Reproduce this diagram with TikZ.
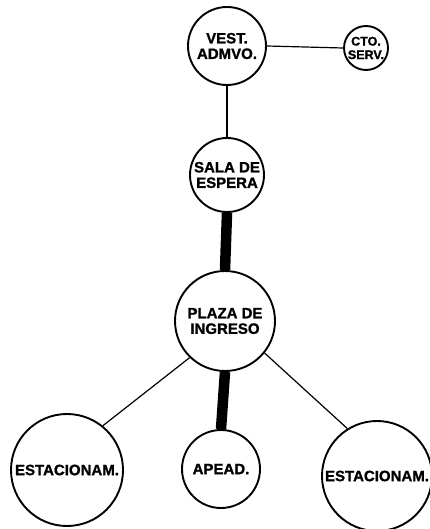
\documentclass[tikz,border=0pt]{standalone}
\usepackage{fontspec}
\setmainfont{Liberation Sans}
\newfontfamily\labelfont{Liberation Sans Bold}[FakeBold=1.2]
\usetikzlibrary{positioning, calc}

\begin{document}
\begin{tikzpicture}[
    x=1pt, y=-1pt,
    room/.style={circle, draw=black, line width=1.9pt, inner sep=0pt, align=center, font=\labelfont\fontsize{15}{15.5}\selectfont},
    small_room/.style={room, font=\labelfont\fontsize{12.5}{13.5}\selectfont},
    link/.style={line width=1.2pt},
    main_link/.style={line width=10.5pt}
]
    \useasboundingbox (0,0) rectangle (430,529);

    % ========== TOP: Administration ==========
    \node[room, minimum size=78pt] (vest) at (227,46) {VEST.\\ADMVO.};
    \node[small_room, minimum size=44pt] (cto) at (366,48) {CTO.\\SERV.};
    \node[room, minimum size=74pt] (sala) at (227,175) {SALA DE\\ESPERA};

    % ========== CENTRE: Entrance ==========
    \node[room, minimum size=100pt] (plaza) at (225,321) {PLAZA DE\\INGRESO};

    % ========== BOTTOM: Parking and drop-off ==========
    \node[room, minimum size=112pt] (est_left) at (67,470) {ESTACIONAM.};
    \node[room, minimum size=78pt] (apead) at (221,469) {APEAD.};
    \node[room, minimum size=110pt] (est_right) at (377,476) {ESTACIONAM.};

    % Thin links
    \draw[link] (vest.east) -- (cto.west);
    \draw[link] (vest.south) -- (sala.north);
    \draw[link] (plaza.226) -- (est_left.51);
    \draw[link] (plaza.321) -- (est_right.122);

    % Main links
    \draw[main_link] (sala.south) -- (plaza.north);
    \draw[main_link] (plaza.south) -- (apead.north);

\end{tikzpicture}
\end{document}
